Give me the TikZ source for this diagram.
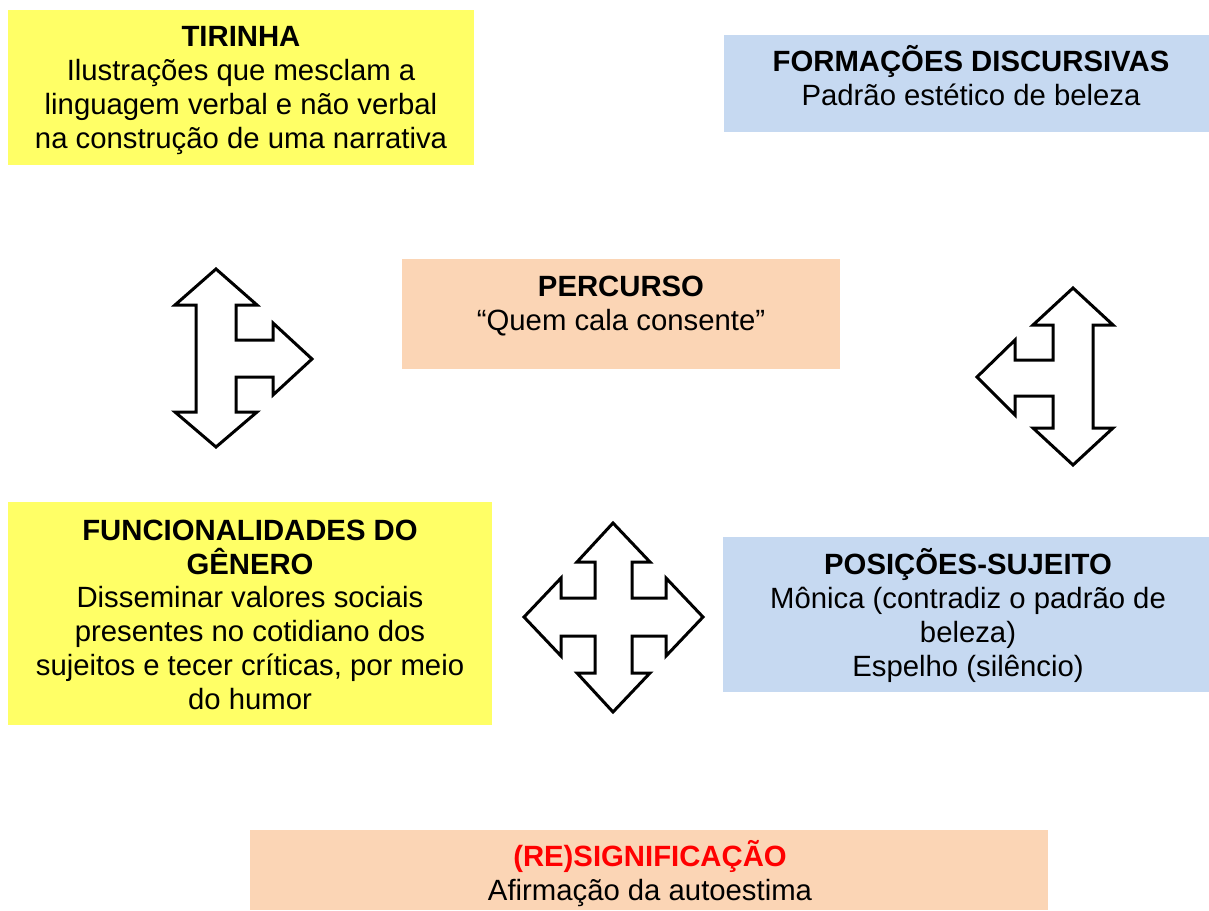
\documentclass[tikz,border=0pt]{standalone}
\usepackage{fontspec}
\setmainfont{Liberation Sans}
\definecolor{ylw}{HTML}{FFFF66}
\definecolor{blu}{HTML}{C6D9F1}
\definecolor{pch}{HTML}{FBD5B5}
\definecolor{rd}{HTML}{FF0000}
\begin{document}
\begin{tikzpicture}[x=1pt,y=-1pt,
  txt/.style={align=center,inner sep=0pt,anchor=base,font=\fontsize{29.3}{33.7}\selectfont},
  blockarrow/.style={draw=black,fill=white,line width=3pt,line join=miter}]
\useasboundingbox (0,0) rectangle (1209,910);
% boxes (text anchored at the baseline of the last line)
\fill[ylw] (8,10) rectangle (474,165);
\node[txt] (tirtext) at (241,148) {\textbf{TIRINHA}\\Ilustrações que mesclam a\\linguagem verbal e não verbal\\na construção de uma narrativa};
\fill[blu] (724,35) rectangle (1209,132);
\node[txt] (fortext) at (971,105.5) {\textbf{FORMAÇÕES DISCURSIVAS}\\Padrão estético de beleza};
\fill[pch] (402,259) rectangle (840,369);
\node[txt] (pertext) at (621,330.5) {\textbf{PERCURSO}\\“Quem cala consente”};
\fill[ylw] (8,502) rectangle (492,725);
\node[txt] (funtext) at (250,709) {\textbf{FUNCIONALIDADES DO}\\\textbf{GÊNERO}\\Disseminar valores sociais\\presentes no cotidiano dos\\sujeitos e tecer críticas, por meio\\do humor};
\fill[blu] (723,537) rectangle (1209,692);
\node[txt] (postext) at (968,676) {\textbf{POSIÇÕES-SUJEITO}\\Mônica (contradiz o padrão de\\beleza)\\Espelho (silêncio)};
\fill[pch] (250,830) rectangle (1048,910);
\node[txt] (restext) at (650,900) {\textcolor{rd}{\textbf{(RE)SIGNIFICAÇÃO}}\\Afirmação da autoestima};
% arrow 1
\draw[blockarrow] (216,269) -- (257,305) -- (236,305) -- (236,340) -- (273,340) -- (273,323) -- (312,359) -- (273,395) -- (273,377) -- (236,377) -- (236,412) -- (257,412) -- (216,447) -- (175,412) -- (196,412) -- (196,305) -- (175,305) -- cycle;
% arrow 2
\draw[blockarrow] (1073,288) -- (1113,325) -- (1093,325) -- (1093,428) -- (1113,428) -- (1073,465) -- (1033,428) -- (1053,428) -- (1053,396) -- (1015,396) -- (1015,415) -- (977,377) -- (1015,340) -- (1015,360) -- (1053,360) -- (1053,325) -- (1033,325) -- cycle;
% arrow 3
\draw[blockarrow] (613,523) -- (650,562) -- (632,562) -- (632,598) -- (666,598) -- (666,578) -- (703,617) -- (666,656) -- (666,636) -- (632,636) -- (632,673) -- (650,673) -- (613,712) -- (577,673) -- (595,673) -- (595,636) -- (561,636) -- (561,656) -- (524,617) -- (561,578) -- (561,598) -- (595,598) -- (595,562) -- (577,562) -- cycle;
\end{tikzpicture}
\end{document}
